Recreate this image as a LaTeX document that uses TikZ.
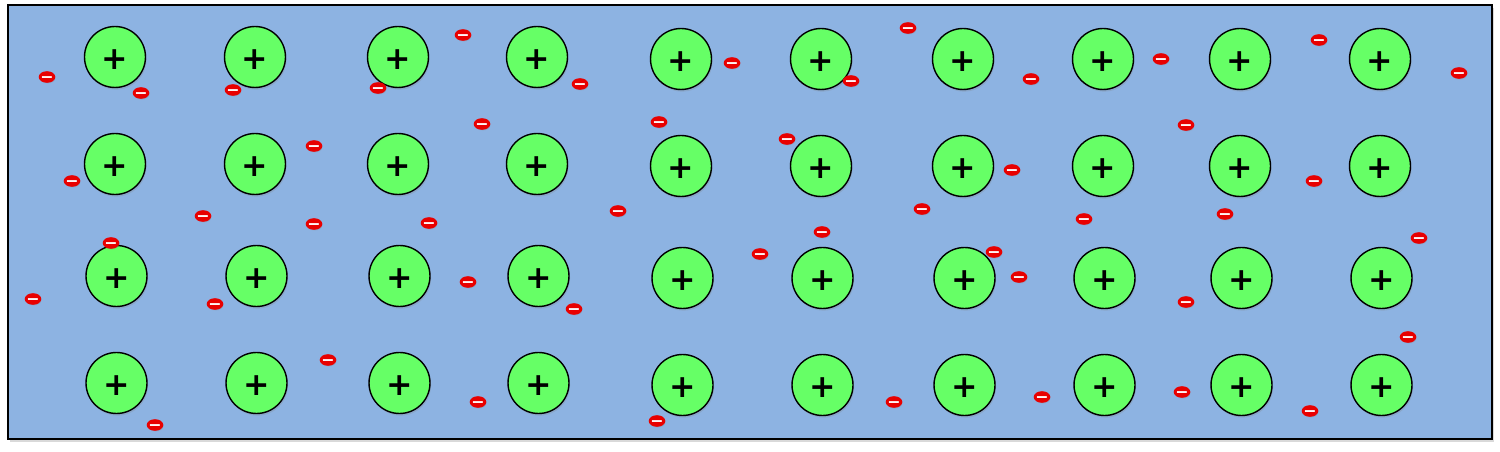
\documentclass[tikz,border=0pt]{standalone}
\usepackage{fontspec}
\newfontfamily\chargefont{DejaVu Sans}
\usetikzlibrary{shapes.geometric,shadows}
\definecolor{metalblue}{RGB}{141,179,226}
\definecolor{iongreen}{RGB}{102,255,102}
\definecolor{elecred}{RGB}{232,0,0}
\tikzset{
  ion/.style={circle,draw=black,line width=0.8pt,fill=iongreen,minimum size=1.22cm,inner sep=0pt,
    drop shadow={shadow xshift=0.6pt,shadow yshift=-1.2pt,opacity=0.25}},
  plussign/.style={inner sep=0pt,yshift=-1.5pt,font=\chargefont\bfseries\fontsize{18}{18}\selectfont},
  electron/.style={ellipse,draw=elecred,line width=0.9pt,fill=elecred,minimum width=0.3cm,minimum height=0.2cm,inner sep=0pt,
    drop shadow={shadow xshift=0.5pt,shadow yshift=-0.8pt,opacity=0.25}},
  minussign/.style={inner sep=0pt,yshift=-1.2pt,text=white,font=\chargefont\bfseries\fontsize{9}{9}\selectfont}
}
\begin{document}
\begin{tikzpicture}[x=0.02cm,y=-0.02cm]
  \useasboundingbox (0,0) rectangle (1500,452);
  % the metal
  \draw[line width=1.1pt,fill=metalblue,drop shadow={shadow xshift=1pt,shadow yshift=-1.5pt,opacity=0.3}] (8,5) rectangle (1492,439);

  % lattice of positive ions
  \foreach \y [count=\j] in {57,164,276,383}
    \foreach \x [count=\i] in {115,255,398,537,681,821,963,1103,1240,1380}{
      \pgfmathsetmacro\dx{(\j>2)*1.5}
      \pgfmathsetmacro\dy{(\i>4)*2}
      \node[ion] (ion-\j-\i) at (\x+\dx,\y+\dy) {};
      \node[plussign] at (ion-\j-\i) {+};
    }

  % free electrons
  \foreach \x/\y [count=\k] in {47/77,141/93,233/90,378/88,463/35,580/84,732/63,851/81,908/28,1031/79,
      1161/59,1319/40,1459/73,72/181,314/146,482/124,659/122,787/139,1012/170,1186/125,1314/181,
      203/216,314/224,429/223,618/211,922/209,1084/219,1225/214,111/243,822/232,760/254,994/252,
      1419/238,33/299,215/304,468/282,574/309,1019/277,1186/302,1408/337,328/360,155/425,478/402,
      657/421,894/402,1042/397,1182/392,1310/411}{
    \node[electron] (e\k) at (\x,\y) {};
    \node[minussign] at (e\k) {−};
  }
\end{tikzpicture}
\end{document}
